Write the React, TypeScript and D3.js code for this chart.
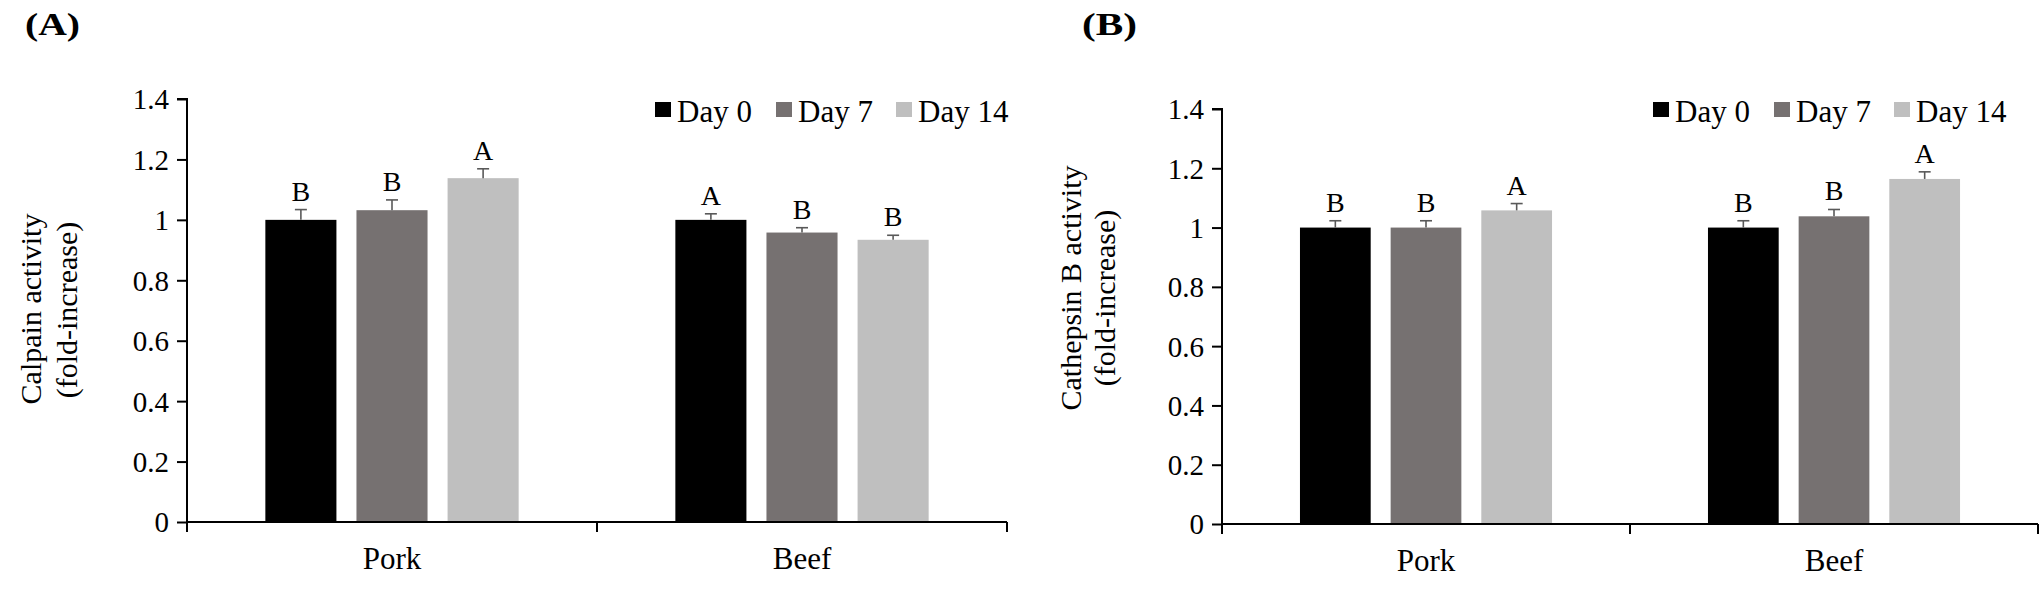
import React, { useEffect, useRef } from "react";
import * as d3 from "d3";

const categories = ["Pork", "Beef"];
const seriesNames = ["Day 0", "Day 7", "Day 14"];
const seriesColors = ["#000000", "#767171", "#bfbfbf"];
const yTicks = [0, 0.2, 0.4, 0.6, 0.8, 1, 1.2, 1.4];

// Panel A: Calpain activity
const calpainPork = [1.0, 1.032, 1.138];
const calpainBeef = [1.0, 0.958, 0.934];
const calpainPorkErr = [0.034, 0.034, 0.031];
const calpainBeefErr = [0.02, 0.016, 0.015];
const calpainPorkLetters = ["B", "B", "A"];
const calpainBeefLetters = ["A", "B", "B"];

// Panel B: Cathepsin B activity
const cathPork = [1.0, 1.0, 1.058];
const cathBeef = [1.0, 1.038, 1.164];
const cathPorkErr = [0.023, 0.023, 0.023];
const cathBeefErr = [0.023, 0.023, 0.024];
const cathPorkLetters = ["B", "B", "A"];
const cathBeefLetters = ["B", "B", "A"];

const FONT = "'Liberation Serif', 'Times New Roman', Times, serif";

type Panel = {
  label: string;
  labelX: number;
  titleLines: string[];
  titleX: number[];
  titleY: number[];
  x0: number;
  x1: number;
  yTop: number;
  y0: number;
  values: number[][];
  errors: number[][];
  letters: string[][];
  legendX: number;
};

const panels: Panel[] = [
  {
    label: "(A)",
    labelX: 25,
    titleLines: ["Calpain activity", "(fold-increase)"],
    titleX: [41, 77],
    titleY: [309, 310],
    x0: 187,
    x1: 1007,
    yTop: 99,
    y0: 522,
    values: [calpainPork, calpainBeef],
    errors: [calpainPorkErr, calpainBeefErr],
    letters: [calpainPorkLetters, calpainBeefLetters],
    legendX: 655,
  },
  {
    label: "(B)",
    labelX: 1082,
    titleLines: ["Cathepsin B activity", "(fold-increase)"],
    titleX: [1081, 1115],
    titleY: [288, 298],
    x0: 1222,
    x1: 2038,
    yTop: 109,
    y0: 524,
    values: [cathPork, cathBeef],
    errors: [cathPorkErr, cathBeefErr],
    letters: [cathPorkLetters, cathBeefLetters],
    legendX: 1653,
  },
];

export default function App() {
  const ref = useRef<SVGSVGElement>(null);

  useEffect(() => {
    const svg = d3.select(ref.current);
    svg.selectAll("*").remove();
    svg.append("rect").attr("width", 2041).attr("height", 598).attr("fill", "#fff");

    panels.forEach((p) => {
      const g = svg.append("g").attr("font-family", FONT).attr("fill", "#000");
      const x = d3.scaleBand<string>().domain(categories).range([p.x0, p.x1]);
      const xi = d3
        .scaleBand<string>()
        .domain(seriesNames)
        .range([0, x.bandwidth()])
        .paddingInner(0.22)
        .paddingOuter(0.86);
      const y = d3.scaleLinear().domain([0, 1.4]).range([p.y0, p.yTop]);

      // panel label
      g.append("text")
        .attr("x", p.labelX)
        .attr("y", 35)
        .attr("font-size", 32)
        .attr("font-weight", "bold")
        .attr("textLength", 55)
        .attr("lengthAdjust", "spacingAndGlyphs")
        .text(p.label);

      // bars
      categories.forEach((c, ci) => {
        seriesNames.forEach((s, si) => {
          const v = p.values[ci][si];
          const e = p.errors[ci][si];
          const bx = (x(c) as number) + (xi(s) as number);
          const bw = xi.bandwidth();
          g.append("rect")
            .attr("x", bx)
            .attr("y", y(v))
            .attr("width", bw)
            .attr("height", y(0) - y(v))
            .attr("fill", seriesColors[si]);
          const cx = bx + bw / 2;
          g.append("line")
            .attr("x1", cx)
            .attr("x2", cx)
            .attr("y1", y(v))
            .attr("y2", y(v + e))
            .attr("stroke", "#595959")
            .attr("stroke-width", 1.6);
          g.append("line")
            .attr("x1", cx - 6)
            .attr("x2", cx + 6)
            .attr("y1", y(v + e))
            .attr("y2", y(v + e))
            .attr("stroke", "#595959")
            .attr("stroke-width", 1.6);
          g.append("text")
            .attr("x", cx)
            .attr("y", y(v + e) - 9)
            .attr("text-anchor", "middle")
            .attr("font-size", 28)
            .text(p.letters[ci][si]);
        });
      });

      // y axis
      const yAxis = d3
        .axisLeft(y)
        .tickValues(yTicks)
        .tickSize(10)
        .tickPadding(8)
        .tickFormat((d) => String(d));
      const ya = g.append("g").attr("transform", `translate(${p.x0},0)`).call(yAxis);
      ya.select(".domain").attr("stroke", "#000").attr("stroke-width", 2).attr("d", `M-10,${p.yTop}H0V${p.y0 + 10}`);
      ya.selectAll(".tick line").attr("stroke", "#000").attr("stroke-width", 2);
      ya.selectAll(".tick text")
        .attr("font-family", FONT)
        .attr("font-size", 29)
        .attr("fill", "#000")
        .attr("dy", "0.34em");

      // x axis
      const xa = g.append("g").attr("transform", `translate(0,${p.y0})`);
      xa.append("line")
        .attr("x1", p.x0)
        .attr("x2", p.x1)
        .attr("stroke", "#000")
        .attr("stroke-width", 2);
      const bounds = [p.x0, ...categories.map((c) => (x(c) as number) + x.bandwidth())];
      bounds.forEach((bxv) => {
        xa.append("line")
          .attr("x1", bxv)
          .attr("x2", bxv)
          .attr("y1", 0)
          .attr("y2", 10)
          .attr("stroke", "#000")
          .attr("stroke-width", 2);
      });
      categories.forEach((c) => {
        xa.append("text")
          .attr("x", (x(c) as number) + x.bandwidth() / 2)
          .attr("y", 47)
          .attr("text-anchor", "middle")
          .attr("font-size", 31)
          .text(c);
      });

      // y title
      p.titleLines.forEach((t, i) => {
        g.append("text")
          .attr("transform", `translate(${p.titleX[i]},${p.titleY[i]}) rotate(-90)`)
          .attr("text-anchor", "middle")
          .attr("font-size", 30)
          .text(t);
      });

      // legend
      const lg = g.append("g").attr("transform", `translate(${p.legendX},0)`);
      const offsets = [0, 121, 241];
      seriesNames.forEach((s, si) => {
        lg.append("rect")
          .attr("x", offsets[si])
          .attr("y", 102)
          .attr("width", 16)
          .attr("height", 15)
          .attr("fill", seriesColors[si]);
        lg.append("text")
          .attr("x", offsets[si] + 22)
          .attr("y", 122)
          .attr("font-size", 31)
          .text(s);
      });
    });
  }, []);

  return (
    <svg
      ref={ref}
      width={2041}
      height={598}
      style={{ position: "absolute", left: 0, top: 0, display: "block" }}
    />
  );
}
